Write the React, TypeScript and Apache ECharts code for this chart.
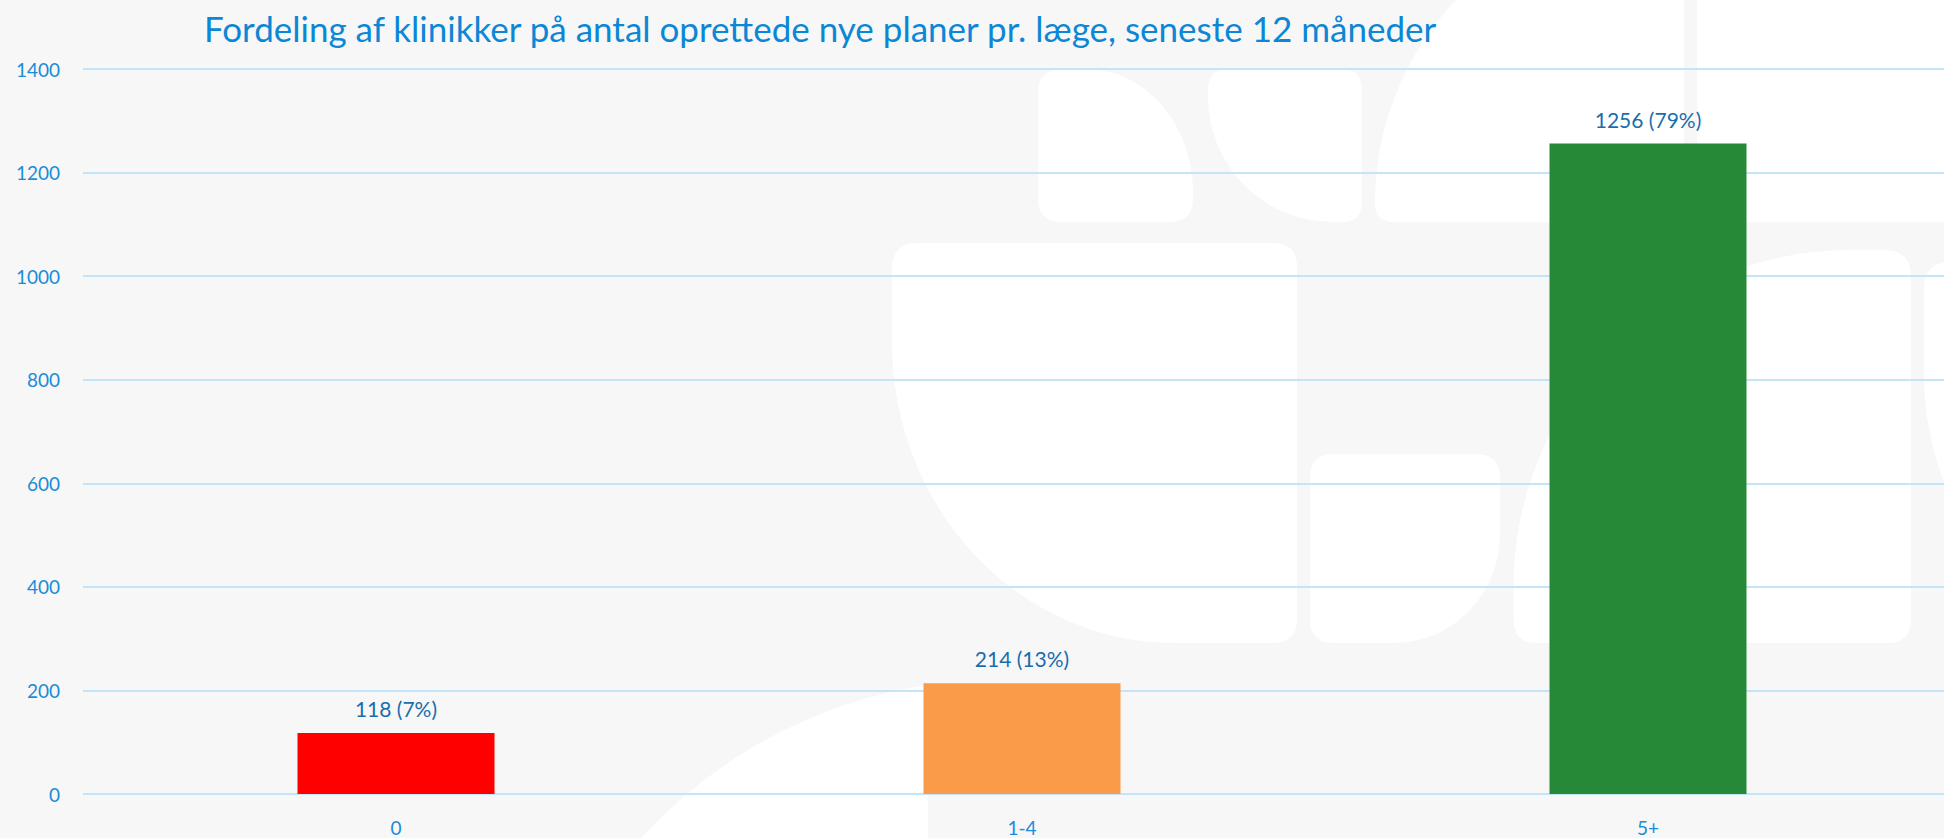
import React, { useEffect, useRef } from "react";
import * as echarts from "echarts";

const titleText = "Fordeling af klinikker på antal oprettede nye planer pr. læge, seneste 12 måneder";
const categories = ["0", "1-4", "5+"];
const counts = [118, 214, 1256];
const percents = [7, 13, 79];
const barColors = ["#ff0000", "#f99b48", "#268937"];
const yMin = 0;
const yMax = 1400;
const yInterval = 200;

// watermark shapes behind the plot (decorative background)
const watermarkPath = [
  "M 1061 69.5 L 1088 69.5 A 105 123 0 0 1 1193 192 L 1193 198 Q 1193 222 1169 222 L 1062 222 Q 1038 222 1038 198 L 1038 93 Q 1038 69.5 1061 69.5 Z",
  "M 1228 69.5 L 1342 69.5 Q 1362 69.5 1362 89.5 L 1362 202 Q 1362 222 1342 222 L 1333 222 A 125 125 0 0 1 1208 97 L 1208 89.5 Q 1208 69.5 1228 69.5 Z",
  "M 1375 203 A 295 295 0 0 1 1456 0 L 1684 0 L 1684 222 L 1394 222 Q 1375 222 1375 203 Z",
  "M 1697 -5 L 2000 -5 L 2000 222 L 1717 222 Q 1697 222 1697 202 Z",
  "M 918 243 L 1273 243 Q 1297 243 1297 267 L 1297 619 Q 1297 643 1273 643 L 1174 643 A 282 301 0 0 1 892 342 L 892 269 Q 892 243 918 243 Z",
  "M 1334 454 L 1476 454 Q 1500 454 1500 478 L 1500 534 A 106 109 0 0 1 1394 643 L 1334 643 Q 1310 643 1310 619 L 1310 478 Q 1310 454 1334 454 Z",
  "M 1513.5 587 A 337 337 0 0 1 1850 250 L 1884 250 Q 1911 250 1911 277 L 1911 619 Q 1911 643 1887 643 L 1537 643 Q 1513.5 643 1513.5 619 Z",
  "M 1924 289 Q 1924 262 1951 262 L 2000 262 L 2000 573.6 A 300 300 0 0 1 1924 374 Z",
  "M 641 838 A 487 487 0 0 1 928 685 L 928 845 L 641 845 Z",
].join(" ");

let registered = false;
function ensureShape() {
  if (registered) return;
  echarts.graphic.registerShape("logo", echarts.graphic.extendPath(watermarkPath, {}) as any);
  registered = true;
}

export default function App() {
  const ref = useRef<HTMLDivElement>(null);

  useEffect(() => {
    if (!ref.current) return;
    ensureShape();
    const chart = echarts.init(ref.current, undefined, { renderer: "svg" });
    chart.setOption({
      animation: false,
      backgroundColor: "#f7f7f7",
      title: {
        text: titleText,
        left: 204,
        top: 10,
        padding: 0,
        textStyle: {
          fontFamily: "Lato",
          fontSize: 35,
          fontWeight: "normal",
          color: "#0b87d6",
        },
      },
      graphic: [
        {
          type: "logo",
          x: 0,
          y: 0,
          scaleX: 1,
          scaleY: 1,
          z: -10,
          silent: true,
          style: { fill: "#ffffff" },
        },
      ],
      grid: { left: 83, top: 69, right: 0, bottom: 44, containLabel: false },
      xAxis: {
        type: "category",
        data: categories,
        axisLine: { show: false },
        axisTick: { show: false },
        axisLabel: {
          margin: 24,
          fontFamily: "Lato",
          fontSize: 19,
          color: "#1a8cd8",
        },
      },
      yAxis: {
        type: "value",
        min: yMin,
        max: yMax,
        interval: yInterval,
        axisLine: { show: false },
        axisTick: { show: false },
        axisLabel: {
          margin: 23,
          fontFamily: "Lato",
          fontSize: 19,
          color: "#1a8cd8",
          formatter: (v: number) => String(v),
        },
        splitLine: { lineStyle: { color: "#c2e5fb", width: 2 } },
      },
      series: [
        {
          type: "bar",
          barWidth: 197,
          data: counts.map((v, i) => ({ value: v, itemStyle: { color: barColors[i] } })),
          label: {
            show: true,
            position: "top",
            distance: 14,
            fontFamily: "Lato",
            fontSize: 21,
            color: "#1a6dad",
            formatter: (p: any) => `${counts[p.dataIndex]} (${percents[p.dataIndex]}%)`,
          },
        },
      ],
    });
    return () => chart.dispose();
  }, []);

  return (
    <div
      ref={ref}
      style={{ position: "fixed", left: 0, top: 0, width: 1961, height: 838 }}
    />
  );
}
